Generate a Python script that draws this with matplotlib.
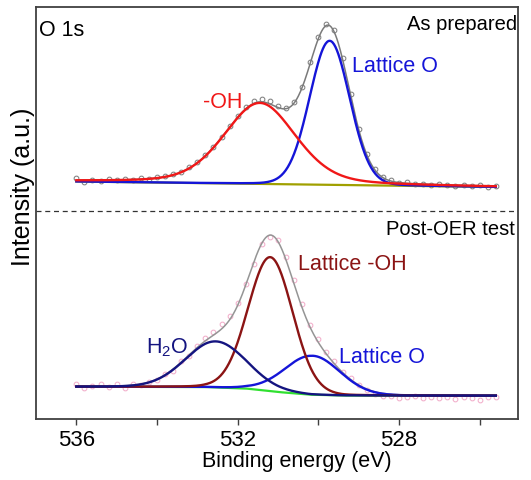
import numpy as np
import matplotlib
matplotlib.use("Agg")
import matplotlib.pyplot as plt

plt.rcParams['font.family'] = ['Liberation Sans', 'DejaVu Sans']
plt.rcParams['mathtext.fontset'] = 'custom'
plt.rcParams['mathtext.rm'] = 'Liberation Sans'
plt.rcParams['mathtext.it'] = 'Liberation Sans'

# measured energies (eV), 0.2 eV step
energy = [536.0, 535.8, 535.6, 535.4, 535.2, 535.0, 534.8, 534.6, 534.4, 534.2,
          534.0, 533.8, 533.6, 533.4, 533.2, 533.0, 532.8, 532.6, 532.4, 532.2,
          532.0, 531.8, 531.6, 531.4, 531.2, 531.0, 530.8, 530.6, 530.4, 530.2,
          530.0, 529.8, 529.6, 529.4, 529.2, 529.0, 528.8, 528.6, 528.4, 528.2,
          528.0, 527.8, 527.6, 527.4, 527.2, 527.0, 526.8, 526.6, 526.4, 526.2,
          526.0, 525.8, 525.6]

# O 1s, as prepared (a.u.)
counts_prep = [240.6, 237.3, 239.5, 238.1, 239.9, 238.8, 239.7, 238.7, 240.9, 239.9,
               242.0, 242.9, 245.5, 247.4, 251.9, 257.0, 264.5, 272.5, 282.5, 293.3,
               303.5, 312.2, 318.0, 320.2, 317.7, 313.5, 311.5, 316.9, 332.4, 357.3,
               382.2, 395.1, 388.7, 360.8, 325.1, 290.1, 265.5, 250.4, 242.3, 238.7,
               236.1, 236.8, 234.7, 235.4, 233.7, 235.1, 233.9, 232.6, 234.2, 232.6,
               233.6, 232.1, 232.6]

# O 1s, post-OER test (a.u.)
counts_post = [34.6, 31.0, 33.4, 35.1, 31.9, 34.7, 31.5, 35.1, 33.6, 37.3,
               39.0, 44.9, 47.9, 58.3, 63.5, 73.5, 81.1, 87.5, 94.6, 103.3,
               116.1, 135.3, 155.3, 175.3, 181.6, 179.3, 162.1, 138.8, 114.6, 93.9,
               80.0, 66.9, 57.9, 47.4, 41.1, 33.6, 28.8, 25.3, 22.6, 23.2,
               20.9, 22.1, 23.1, 21.1, 22.4, 20.7, 21.7, 20.0, 22.5, 20.7,
               19.3, 21.8, 22.5]

# Shirley-type backgrounds
bg_prep_e = [536.0, 525.6]
bg_prep_v = [237.5, 232.0]
bg_post_e = [536.0, 532.8, 531.8, 531.0, 530.2, 529.4, 525.6]
bg_post_v = [32.3, 32.0, 30.5, 27.0, 24.3, 23.5, 23.3]

# fitted components: centre (eV), height, FWHM (eV), lorentz fraction, colour
peaks_prep_name = ['Lattice O', '-OH']
peaks_prep_center = [529.72, 531.45]
peaks_prep_height = [144, 81]
peaks_prep_fwhm = [1.17, 2.1]
peaks_prep_eta = [0.05, 0.3]
peaks_prep_color = ['#1515d8', '#f01818']

peaks_post_name = ['Lattice O', 'Lattice -OH', 'H$_2$O']
peaks_post_center = [530.15, 531.19, 532.54]
peaks_post_height = [39, 134, 46]
peaks_post_fwhm = [1.62, 1.30, 1.78]
peaks_post_eta = [0.05, 0.05, 0.05]
peaks_post_color = ['#1515d8', '#8b1414', '#141480']


def pvoigt(x, c, a, w, eta):
	r = ((x - c) / w) ** 2
	return a * ((1 - eta) * np.exp(-4 * np.log(2) * r) + eta / (1 + 4 * r))


def draw_panel(ax, counts, bg_e, bg_v, centers, heights, fwhms, etas, colors,
			   pt_color, env_color, bg_color):
	x = np.linspace(536.0, 525.6, 600)
	bg = np.interp(x, bg_e[::-1], bg_v[::-1])
	comps = [pvoigt(x, c, a, w, e) for c, a, w, e in zip(centers, heights, fwhms, etas)]
	ax.plot(energy, counts, 'o', ms=3.4, mfc='none', mec=pt_color, mew=0.75, zorder=2)
	ax.plot(x, bg + sum(comps), color=env_color, lw=1.1, zorder=3)
	ax.plot(x, bg, color=bg_color, lw=1.6, zorder=3)
	for comp, col in zip(comps, colors):
		ax.plot(x, bg + comp, color=col, lw=1.7, zorder=4)


fig = plt.figure(figsize=(5.31, 4.81), dpi=100)
ax = fig.add_axes([36 / 531, 1 - 420 / 481, 482 / 531, 412 / 481])

draw_panel(ax, counts_prep, bg_prep_e, bg_prep_v, peaks_prep_center, peaks_prep_height,
		   peaks_prep_fwhm, peaks_prep_eta, peaks_prep_color, '#808080', '#7a7a7a', '#a0a000')
draw_panel(ax, counts_post, bg_post_e, bg_post_v, peaks_post_center, peaks_post_height,
		   peaks_post_fwhm, peaks_post_eta, peaks_post_color, '#f2aecb', '#959595', '#30e030')

ax.axhline(208, color='#333333', lw=0.9, ls=(0, (4, 3)))

ax.set_xlim(537.0, 525.05)
ax.set_ylim(0, 412)
ax.set_yticks([])
ax.set_xticks([536, 532, 528])
ax.set_xticklabels(['536', '532', '528'])
ax.set_xticks([534, 530, 526], minor=True)
ax.tick_params(which='both', direction='out', length=4, width=1, color='#404040',
			   labelsize=16, pad=3)
for s in ax.spines.values():
	s.set_color('#404040')
	s.set_linewidth(1.3)

fs = 15.5
ax.text(536.93, 384, 'O 1s', fontsize=fs, ha='left', va='baseline')
ax.text(525.07, 390, 'As prepared', fontsize=14.5, ha='right', va='baseline')
ax.text(525.12, 185, 'Post-OER test', fontsize=14.5, ha='right', va='baseline')
ax.text(532.36, 312, '-OH', fontsize=fs, color=peaks_prep_color[1], ha='center', va='baseline')
ax.text(528.10, 348, 'Lattice O', fontsize=fs, color=peaks_prep_color[0], ha='center', va='baseline')
ax.text(529.16, 150, 'Lattice -OH', fontsize=fs, color=peaks_post_color[1], ha='center', va='baseline')
ax.text(528.43, 57, 'Lattice O', fontsize=fs, color=peaks_post_color[0], ha='center', va='baseline')
ax.text(533.75, 67, 'H$_2$O', fontsize=fs, color=peaks_post_color[2], ha='center', va='baseline')

fig.text(297 / 531, 1 - 467 / 481, 'Binding energy (eV)', fontsize=15.5, ha='center', va='baseline')
fig.text(23 / 531, 1 - 187 / 481, 'Intensity (a.u.)', fontsize=18, rotation=90,
		 ha='center', va='center')

fig.savefig('out.png', dpi=100)
